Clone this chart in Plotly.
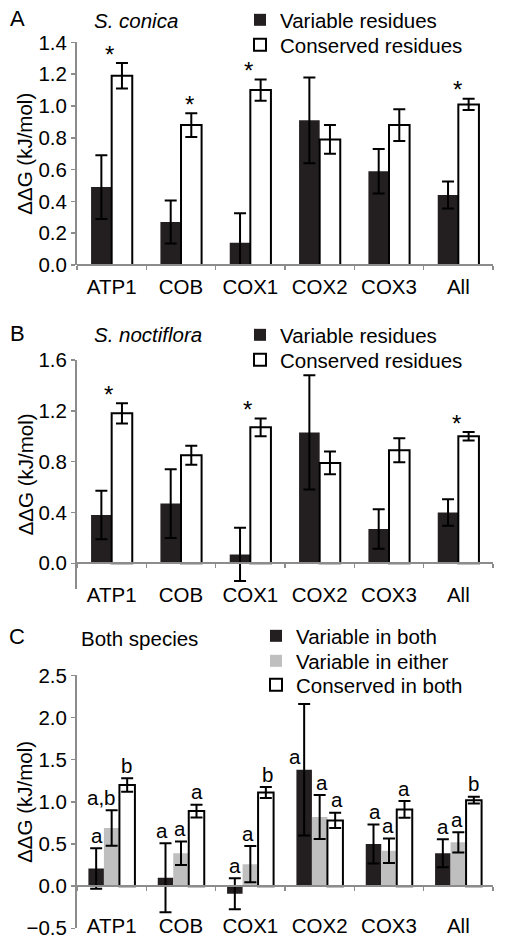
import plotly.graph_objects as go

categories = ["ATP1", "COB", "COX1", "COX2", "COX3", "All"]

# Panel A: S. conica
a_var = [0.49, 0.27, 0.14, 0.91, 0.59, 0.44]
a_var_err = [0.20, 0.135, 0.185, 0.27, 0.14, 0.085]
a_con = [1.19, 0.88, 1.10, 0.79, 0.88, 1.01]
a_con_err = [0.08, 0.075, 0.067, 0.09, 0.10, 0.035]
a_stars = ["*", "*", "*", "", "", "*"]

# Panel B: S. noctiflora
b_var = [0.38, 0.47, 0.07, 1.03, 0.27, 0.40]
b_var_err = [0.19, 0.27, 0.21, 0.45, 0.155, 0.105]
b_con = [1.18, 0.85, 1.07, 0.79, 0.89, 1.00]
b_con_err = [0.08, 0.075, 0.07, 0.09, 0.095, 0.033]
b_stars = ["*", "", "*", "", "", "*"]

# Panel C: both species
c_both = [0.21, 0.10, -0.09, 1.38, 0.50, 0.39]
c_both_err = [0.24, 0.41, 0.185, 0.78, 0.23, 0.165]
c_either = [0.69, 0.39, 0.26, 0.82, 0.42, 0.52]
c_either_err = [0.21, 0.14, 0.215, 0.26, 0.145, 0.12]
c_con = [1.20, 0.89, 1.11, 0.78, 0.91, 1.02]
c_con_err = [0.08, 0.075, 0.065, 0.09, 0.10, 0.04]
c_letters_both = ["a", "a", "a", "a", "a", "a"]
c_letters_either = ["a,b", "a", "a", "a", "a", "a"]
c_letters_con = ["b", "a", "b", "a", "a", "b"]

W, H = 505, 945
BLACK = "#231f20"
GRAY = "#bfbfbf"
AXIS = "#8c8c8c"
FONT = "Liberation Sans, Arial, sans-serif"
FS = 20.5

def py(px):
    return 1 - px / H

x_dom = [77 / W, 493 / W]

panels = {
    "A": dict(rng=[0, 1.4], tickvals=[0, 0.2, 0.4, 0.6, 0.8, 1.0, 1.2, 1.4], top=42.4, bottom=265.0, label_px=272.0),
    "B": dict(rng=[-0.2, 1.6], tickvals=[0, 0.4, 0.8, 1.2, 1.6], top=360.0, bottom=588.7, label_px=580.0),
    "C": dict(rng=[-0.5, 2.5], tickvals=[-0.5, 0, 0.5, 1.0, 1.5, 2.0, 2.5], top=675.4, bottom=928.3, label_px=911.0),
}

fig = go.Figure()

def err(arr):
    return dict(type="data", array=arr, color="black", thickness=2, width=6)

# legend slot for each series: (legend id, item centre y px, text left x px)
legend_slots = {
    "A_var": ("legend", 20, 282), "A_con": ("legend2", 45, 282),
    "B_var": ("legend3", 335, 282), "B_con": ("legend4", 360, 282),
    "C_both": ("legend5", 636, 298), "C_either": ("legend6", 661, 298), "C_con": ("legend7", 685, 298),
}

w2 = 0.297
for p, xa, ya, var, verr, con, cerr in [
        ("A", "x", "y", a_var, a_var_err, a_con, a_con_err),
        ("B", "x3", "y2", b_var, b_var_err, b_con, b_con_err)]:
    fig.add_trace(go.Bar(x=categories, y=var, name="Variable residues", width=w2, offset=-w2,
                         marker=dict(color=BLACK, line=dict(width=0)), error_y=err(verr),
                         xaxis=xa, yaxis=ya, legend=legend_slots[p + "_var"][0]))
    fig.add_trace(go.Bar(x=categories, y=con, name="Conserved residues", width=w2, offset=0,
                         marker=dict(color="white", line=dict(color="black", width=2)), error_y=err(cerr),
                         xaxis=xa, yaxis=ya, legend=legend_slots[p + "_con"][0]))

w3 = 0.2236
fig.add_trace(go.Bar(x=categories, y=c_both, name="Variable in both", width=w3, offset=-1.5 * w3,
                     marker=dict(color=BLACK, line=dict(width=0)), error_y=err(c_both_err),
                     xaxis="x5", yaxis="y3", legend=legend_slots["C_both"][0]))
fig.add_trace(go.Bar(x=categories, y=c_either, name="Variable in either", width=w3, offset=-0.5 * w3,
                     marker=dict(color=GRAY, line=dict(width=0)), error_y=err(c_either_err),
                     xaxis="x5", yaxis="y3", legend=legend_slots["C_either"][0]))
fig.add_trace(go.Bar(x=categories, y=c_con, name="Conserved in both", width=w3, offset=0.5 * w3,
                     marker=dict(color="white", line=dict(color="black", width=2)), error_y=err(c_con_err),
                     xaxis="x5", yaxis="y3", legend=legend_slots["C_con"][0]))

# empty traces to carry the zero-line axes
for xa, ya in [("x2", "y"), ("x4", "y2"), ("x6", "y3")]:
    fig.add_trace(go.Scatter(x=[], y=[], xaxis=xa, yaxis=ya, showlegend=False, hoverinfo="skip"))

layout = dict(
    template="none",
    width=W, height=H, margin=dict(l=0, r=0, t=0, b=0, pad=0, autoexpand=False),
    paper_bgcolor="white", plot_bgcolor="rgba(0,0,0,0)",
    barmode="overlay", font=dict(family=FONT, size=FS, color="black"),
    annotations=[], showlegend=True,
)

axis_names = [("A", "xaxis", "xaxis2", "yaxis", "x"),
              ("B", "xaxis3", "xaxis4", "yaxis2", "x3"),
              ("C", "xaxis5", "xaxis6", "yaxis3", "x5")]
for p, xmain, xline, yname, xref in axis_names:
    cfg = panels[p]
    ydom = [py(cfg["bottom"]), py(cfg["top"])]
    r0, r1 = cfg["rng"]
    zero_pos = ydom[0] + (0 - r0) / (r1 - r0) * (ydom[1] - ydom[0])
    layout[xmain] = dict(domain=x_dom, type="category", range=[-0.5, len(categories) - 0.5],
                         anchor="free", position=py(cfg["label_px"]), showline=False, ticks="",
                         showgrid=False, zeroline=False, automargin=False,
                         tickfont=dict(size=FS, color="black"))
    layout[xline] = dict(domain=x_dom, overlaying=xref, type="linear", range=[-0.5, len(categories) - 0.5],
                         tickvals=[i - 0.5 for i in range(len(categories) + 1)],
                         anchor="free", position=zero_pos, showline=True, linecolor=AXIS, linewidth=2,
                         ticks="outside", ticklen=4, tickwidth=1.5, tickcolor=AXIS, automargin=False,
                         showticklabels=False, showgrid=False, zeroline=False)
    layout[yname] = dict(domain=ydom, range=cfg["rng"], tickvals=cfg["tickvals"], tickformat=".1f",
                         anchor=xmain.replace("axis", ""), showline=True, linecolor=AXIS, linewidth=2,
                         ticks="outside", ticklen=4, tickwidth=1.5, tickcolor=AXIS, automargin=False,
                         showgrid=False, zeroline=False, tickfont=dict(size=FS, color="black"))
    layout["annotations"].append(dict(text="ΔΔG (kJ/mol)", xref="paper", yref="paper",
                                      x=25 / W, y=(ydom[0] + ydom[1]) / 2, textangle=-90,
                                      showarrow=False, xanchor="center", yanchor="middle",
                                      font=dict(size=FS)))

# panel letters and subtitles
for letter, ypx, sub, italic in [("A", 18, "S. conica", True), ("B", 333, "S. noctiflora", True),
                                 ("C", 636, "Both species", False)]:
    layout["annotations"].append(dict(text=letter, xref="paper", yref="paper", x=17 / W, y=py(ypx),
                                      showarrow=False, xanchor="center", yanchor="middle",
                                      font=dict(size=22)))
    layout["annotations"].append(dict(text=f"<i>{sub}</i>" if italic else sub, xref="paper", yref="paper",
                                      x=(92 if italic else 79) / W, y=py(ypx + 2),
                                      showarrow=False, xanchor="left", yanchor="middle",
                                      font=dict(size=FS)))

# significance stars
for stars, con, cerr, xr, yr, dx in [(a_stars, a_con, a_con_err, "x", "y", [-2, 8, -2, 0, 0, -1]),
                                     (b_stars, b_con, b_con_err, "x3", "y2", [-3, 0, -3, 0, 0, -2])]:
    for i, s in enumerate(stars):
        if s:
            layout["annotations"].append(dict(text=s, xref=xr, yref=yr, x=categories[i], y=con[i] + cerr[i],
                                              showarrow=False, xanchor="center", yanchor="middle",
                                              xshift=dx[i], yshift=9, font=dict(size=24)))

# group letters in panel C
letter_sets = [("both", c_letters_both, c_both, c_both_err, [-15, -19, -15, -25, -14, -15]),
               ("either", c_letters_either, c_either, c_either_err, [-10, -1, -2, 2, -1, -1]),
               ("con", c_letters_con, c_con, c_con_err, [15, 16, 17, 17, 15, 15])]
for key, letters, vals, errs, dxs in letter_sets:
    for i, t in enumerate(letters):
        base = vals[i] + errs[i]
        if key == "both" and categories[i] == "COX2":
            base = vals[i]
        layout["annotations"].append(dict(text=t, xref="x5", yref="y3", x=categories[i], y=base,
                                          showarrow=False, xanchor="center", yanchor="middle",
                                          xshift=dxs[i], yshift=13, font=dict(size=FS)))

for key, (lid, ycen, xtext) in legend_slots.items():
    layout[lid] = dict(bgcolor="rgba(0,0,0,0)", borderwidth=0, font=dict(size=FS),
                       xanchor="left", yanchor="middle", x=(xtext - 42) / W, y=py(ycen),
                       itemclick=False, itemdoubleclick=False)

fig.update_layout(**layout)
fig.write_html("out.html", config={"displayModeBar": False, "staticPlot": True},
               post_script="document.body.style.margin='0';")
